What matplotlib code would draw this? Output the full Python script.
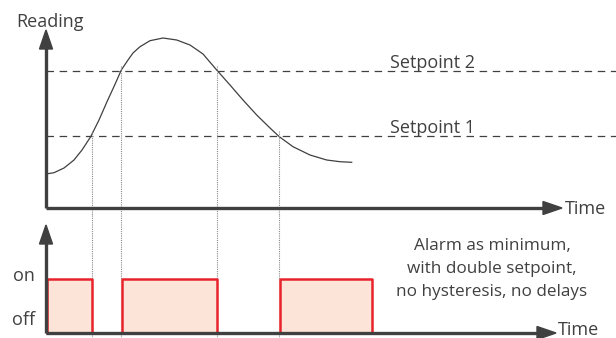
import matplotlib.pyplot as plt
from matplotlib.patches import Polygon

plt.rcParams['font.family'] = ['Open Sans', 'DejaVu Sans']

# reading curve (time, reading)
t = [0, 0.8, 1.8, 2.8, 3.6, 4.47, 5.3, 6.1, 6.87, 7.53, 8.2, 8.7, 9.4, 10.4,
     11.7, 13.07, 14.4, 15.7, 17.07, 18.4, 19.7, 21.07, 22.4, 23.33, 24.7,
     26.4, 28.07, 29.4, 30.57]
reading = [3.4, 3.53, 4.0, 4.8, 5.8, 7.13, 8.8, 10.63, 12.3, 13.8, 14.8, 15.5,
           16.13, 16.73, 17.0, 16.8, 16.3, 15.4, 13.8, 12.3, 10.8, 9.3, 8.0,
           7.13, 6.13, 5.3, 4.8, 4.63, 4.57]

setpoints = [7.2, 13.7]
setpoint_labels = ['Setpoint 1', 'Setpoint 2']

# crossing times and which setpoint they hit
cross_t = [4.6, 7.5, 17.1, 23.3]
cross_sp = [7.2, 13.7, 13.7, 7.2]

# alarm "on" intervals
alarm_start = [0, 7.5, 23.3]
alarm_end = [4.6, 17.1, 32.6]

note = 'Alarm as minimum,\nwith double setpoint,\nno hysteresis, no delays'

DARK = '#404040'
RED = '#e8232b'
FILL = '#fce5d8'
XL = (-4.6, 57)
FS = 13

fig = plt.figure(figsize=(6.16, 3.38), dpi=100)
top = fig.add_axes([0, 0.3639, 1, 0.6361])
bot = fig.add_axes([0, 0, 1, 0.3639])
top.set_xlim(*XL)
top.set_ylim(-0.7, 20.8)
bot.set_xlim(*XL)
bot.set_ylim(-0.0926, 2.185)
for ax in (top, bot):
    ax.axis('off')


def arrow(ax, x0, y0, x1, y1, lw=2.4):
    ax.plot([x0, x1], [y0, y1], color=DARK, lw=lw, solid_capstyle='butt', zorder=5)


def head(ax, tip, direction):
    # small filled triangle in pixel space
    px, py = ax.transData.transform(tip)
    L, W = 19, 6.5
    if direction == 'up':
        pts = [(px, py), (px - W, py - L), (px + W, py - L)]
    else:
        pts = [(px, py), (px - L, py - W), (px - L, py + W)]
    pts = ax.transData.inverted().transform(pts)
    ax.add_patch(Polygon(pts, closed=True, color=DARK, zorder=6))


# --- top panel
for sp, lab in zip(setpoints, setpoint_labels):
    top.plot([0, XL[1]], [sp, sp], color=DARK, lw=0.9, dashes=(6, 4.5))
    top.text(38.7, sp + 0.35, lab, fontsize=FS, color=DARK, ha='center', va='baseline')

top.plot(t, reading, color=DARK, lw=0.9, solid_joinstyle='round')

for ct, cs in zip(cross_t, cross_sp):
    top.plot([ct, ct], [cs + 0.5, -0.7], color='#8a8a8a', lw=0.8, ls=(0, (1, 1)))
    bot.plot([ct, ct], [2.185, -0.0926], color='#8a8a8a', lw=0.8, ls=(0, (1, 1)))

arrow(top, 0, 0, 0, 16.0)
head(top, (0, 17.8), 'up')
arrow(top, 0, 0, 49.8, 0)
head(top, (51.6, 0), 'right')
top.text(0.4, 18.6, 'Reading', fontsize=FS, color=DARK, ha='center', va='center')
top.text(51.9, -0.1, 'Time', fontsize=FS, color=DARK, ha='left', va='center')

# --- bottom panel
widths = [e - s for s, e in zip(alarm_start, alarm_end)]
bot.bar(alarm_start, [1] * len(alarm_start), width=widths, align='edge',
        color=FILL, edgecolor='none', zorder=2)
for s, e in zip(alarm_start, alarm_end):
    bot.plot([s + 0.15, s + 0.15, e, e], [0, 1, 1, 0], color=RED, lw=1.8, zorder=3)

arrow(bot, 0, 0, 0, 1.7)
head(bot, (0, 2.0), 'up')
arrow(bot, 0, 0, 49.2, 0)
head(bot, (51.0, 0), 'right')
bot.text(-2.2, 1.06, 'on', fontsize=FS, color=DARK, ha='center', va='center')
bot.text(-2.2, 0.24, 'off', fontsize=FS, color=DARK, ha='center', va='center')
bot.text(51.2, 0.06, 'Time', fontsize=FS, color=DARK, ha='left', va='center')
bot.text(44.6, 1.185, note, fontsize=12.3, color=DARK, ha='center', va='center',
         multialignment='center', linespacing=1.62)

fig.savefig('out.png', dpi=100)
